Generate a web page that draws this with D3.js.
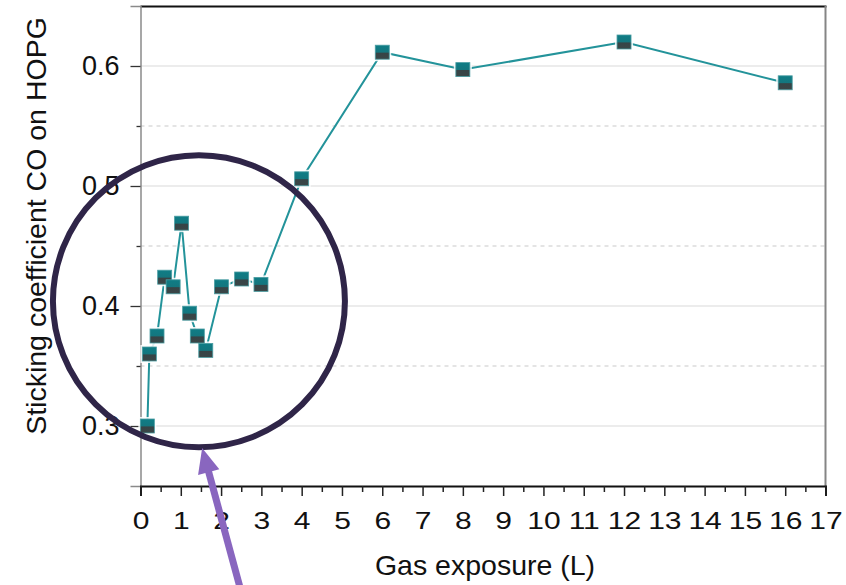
<!DOCTYPE html>
<html>
<head>
<meta charset="utf-8">
<script src="https://cdn.jsdelivr.net/npm/d3@7"></script>
<style>
  body { margin: 0; background: #fff; }
  text { font-family: "Liberation Sans", Arial, sans-serif; fill: #111; }
</style>
</head>
<body>
<div id="chart"></div>
<script>
// data
var exposure = [0.17, 0.22, 0.41, 0.6, 0.81, 1.02, 1.22, 1.41, 1.62, 2.01, 2.51, 2.99, 4, 6, 8, 12, 16];
var sticking = [0.300, 0.360, 0.375, 0.424, 0.416, 0.469, 0.394, 0.375, 0.363, 0.416, 0.4225, 0.418, 0.506, 0.6115, 0.597, 0.620, 0.586];
var xTicks = d3.range(0, 18);
var xMinor = d3.range(0.5, 17, 1);
var yTicks = [0.3, 0.4, 0.5, 0.6];
var yMinor = [0.35, 0.45, 0.55];

var width = 846;
var height = 585;
var plotLeft = 140.5, plotRight = 825.5, plotTop = 6, plotBottom = 486;

var svg = d3.select("#chart")
  .append("svg")
  .attr("width", width)
  .attr("height", height);

var x = d3.scaleLinear().domain([0, 17]).range([plotLeft, plotRight]);
var y = d3.scaleLinear().domain([0.25, 0.65]).range([plotBottom, plotTop]);

// marker gradient: teal top, dark bottom
var grad = svg.append("defs").append("linearGradient")
  .attr("id", "mk").attr("x1", 0).attr("y1", 0).attr("x2", 0).attr("y2", 1);
grad.append("stop").attr("offset", "0%").attr("stop-color", "#0f7d86");
grad.append("stop").attr("offset", "50%").attr("stop-color", "#14767e");
grad.append("stop").attr("offset", "56%").attr("stop-color", "#374446");
grad.append("stop").attr("offset", "100%").attr("stop-color", "#3a4647");

// grid lines
svg.append("g").selectAll("line").data(yTicks).join("line")
  .attr("x1", plotLeft).attr("x2", plotRight)
  .attr("y1", function(d) { return y(d); }).attr("y2", function(d) { return y(d); })
  .attr("stroke", "#dadada").attr("stroke-width", 1.2);
svg.append("g").selectAll("line").data(yMinor).join("line")
  .attr("x1", plotLeft).attr("x2", plotRight)
  .attr("y1", function(d) { return y(d); }).attr("y2", function(d) { return y(d); })
  .attr("stroke", "#c9c9c9").attr("stroke-width", 1).attr("stroke-dasharray", "4,4");

// frame: top black, right gray
svg.append("line").attr("x1", plotLeft).attr("x2", plotRight + 1).attr("y1", plotTop + 0.5).attr("y2", plotTop + 0.5)
  .attr("stroke", "#111").attr("stroke-width", 2);
svg.append("line").attr("x1", plotRight).attr("x2", plotRight).attr("y1", plotTop).attr("y2", plotBottom)
  .attr("stroke", "#858585").attr("stroke-width", 2);

// y axis
var yAxis = svg.append("g").attr("transform", "translate(" + plotLeft + ",0)")
  .call(d3.axisLeft(y).tickValues(yTicks).tickFormat(d3.format(".1f")).tickSize(10).tickPadding(11));
yAxis.select(".domain").attr("stroke", "#8a8a8a").attr("stroke-width", 1.5);
yAxis.selectAll(".tick line").attr("stroke", "#333").attr("stroke-width", 1.3);
yAxis.selectAll("text").style("font-size", "27px").attr("fill", "#111");
var yAxisMinor = svg.append("g").attr("transform", "translate(" + plotLeft + ",0)")
  .call(d3.axisLeft(y).tickValues(yMinor).tickFormat("").tickSize(4));
yAxisMinor.select(".domain").remove();
yAxisMinor.selectAll(".tick line").attr("stroke", "#333").attr("stroke-width", 1.3);

// x axis (labels are a bit wide in the original, so stretch them)
var xAxis = svg.append("g").attr("transform", "translate(0," + plotBottom + ")")
  .call(d3.axisBottom(x).tickValues(xTicks).tickFormat(d3.format("d")).tickSize(10).tickPadding(16));
xAxis.select(".domain").attr("stroke", "#111").attr("stroke-width", 2);
xAxis.selectAll(".tick line").attr("stroke", "#222").attr("stroke-width", 1.5);
xAxis.selectAll("text")
  .style("font-size", "24px")
  .attr("fill", "#111")
  .attr("transform", "scale(1.25,1)");
var xAxisMinor = svg.append("g").attr("transform", "translate(0," + plotBottom + ")")
  .call(d3.axisBottom(x).tickValues(xMinor).tickFormat("").tickSize(6));
xAxisMinor.select(".domain").remove();
xAxisMinor.selectAll(".tick line").attr("stroke", "#222").attr("stroke-width", 1.5);

// axis titles
svg.append("text")
  .attr("x", (plotLeft + plotRight) / 2 + 2).attr("y", 575)
  .attr("text-anchor", "middle")
  .style("font-size", "28.5px")
  .text("Gas exposure (L)");
svg.append("text")
  .attr("transform", "translate(46,226) rotate(-90)")
  .attr("text-anchor", "middle")
  .style("font-size", "28.5px")
  .text("Sticking coefficient CO on HOPG");

// series
var pts = exposure.map(function(d, i) { return [d, sticking[i]]; });
var line = d3.line()
  .x(function(d) { return x(d[0]); })
  .y(function(d) { return y(d[1]); });
svg.append("path")
  .datum(pts)
  .attr("d", line)
  .attr("fill", "none")
  .attr("stroke", "#23939a")
  .attr("stroke-width", 2);

var ms = 14;
// white halo so the line stops short of each marker
svg.append("g").selectAll("rect").data(pts).join("rect")
  .attr("x", function(d) { return x(d[0]) - ms / 2 - 2; })
  .attr("y", function(d) { return y(d[1]) - ms / 2 - 2; })
  .attr("width", ms + 4).attr("height", ms + 4)
  .attr("fill", "#fff").attr("opacity", 0.85);
svg.append("g").selectAll("rect").data(pts).join("rect")
  .attr("x", function(d) { return x(d[0]) - ms / 2; })
  .attr("y", function(d) { return y(d[1]) - ms / 2; })
  .attr("width", ms).attr("height", ms)
  .attr("fill", "url(#mk)")
  .attr("stroke", "#4a9da2").attr("stroke-width", 0.8);

// annotation: circle round the low exposure points and an arrow
var ringX = 1.45, ringY = 0.404, ringR = 146;
svg.append("circle")
  .attr("cx", x(ringX)).attr("cy", y(ringY)).attr("r", ringR)
  .attr("fill", "none")
  .attr("stroke", "#2f2548")
  .attr("stroke-width", 6);

var tipX = x(1.53), tipY = y(0.2817);
var tailX = tipX + 38, tailY = tipY + 140;
var dx = tailX - tipX, dy = tailY - tipY, len = Math.sqrt(dx * dx + dy * dy);
var ux = dx / len, uy = dy / len;
var headL = 25, headW = 11;
var bx = tipX + ux * headL, by = tipY + uy * headL;
svg.append("line")
  .attr("x1", bx - ux * 2).attr("y1", by - uy * 2)
  .attr("x2", tailX).attr("y2", tailY)
  .attr("stroke", "#8966bf").attr("stroke-width", 7);
svg.append("path")
  .attr("d", "M" + tipX + "," + tipY +
    "L" + (bx - uy * headW) + "," + (by + ux * headW) +
    "L" + (bx + uy * headW) + "," + (by - ux * headW) + "Z")
  .attr("fill", "#8966bf");
</script>
</body>
</html>
